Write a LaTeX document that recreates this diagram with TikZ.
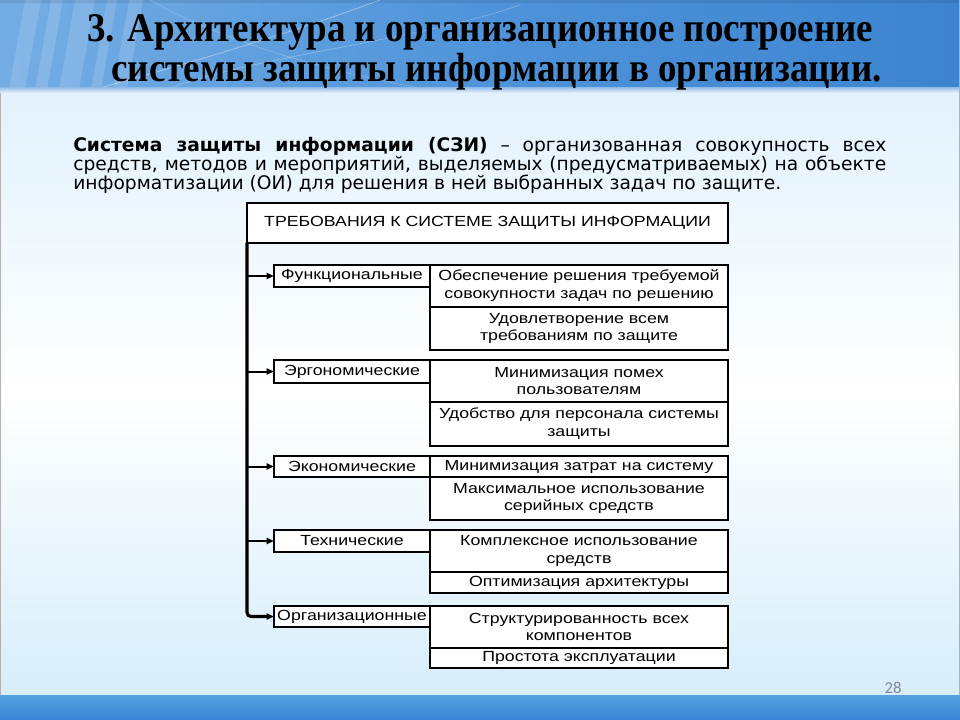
\documentclass[tikz,border=0pt]{standalone}
\usepackage{fontspec}
\setmainfont{Liberation Sans}
\newfontfamily\titlefont[FakeStretch=0.91]{Liberation Serif}
\newfontfamily\parafont{DejaVu Sans}
\newfontfamily\diagfont[FakeStretch=1.21]{Liberation Sans}
\newfontfamily\numfont{Carlito}
\usetikzlibrary{arrows.meta}
\definecolor{hdrL}{HTML}{74ADE3}
\definecolor{hdrM}{HTML}{4F94DA}
\definecolor{hdrR}{HTML}{3D84D0}
\definecolor{bodyT}{HTML}{E2F2FC}
\definecolor{bodyB}{HTML}{D6EDFA}
\definecolor{bandT}{HTML}{56A0E2}
\definecolor{bandB}{HTML}{3A84D4}
\definecolor{numgray}{HTML}{7F8A96}
\begin{document}
\begin{tikzpicture}[x=0.75pt,y=-0.75pt,
  box/.style={draw=black, line width=1.2pt, fill=white, inner sep=0pt, outer sep=0pt,
    anchor=north west, align=center, font=\diagfont\fontsize{11}{13.4}\selectfont},
  cat/.style={box, minimum width=156*0.75pt},
  req/.style={box, minimum width=298*0.75pt},
  arr/.style={line width=1.5pt, -{Triangle[length=5.5pt,width=4.5pt]}},
  trunk/.style={line width=2.3pt, rounded corners=3pt, -{Triangle[length=5.5pt,width=4.5pt]}},
  ttl/.style={anchor=base west, inner sep=0pt, font=\titlefont\bfseries\fontsize{30.5}{32}\selectfont},
  para/.style={anchor=base west, inner sep=0pt, font=\parafont\fontsize{14}{15}\selectfont}
]
\useasboundingbox (0,0) rectangle (960,720);
% backgrounds
\shade[top color=bodyT, bottom color=bodyB, middle color=white] (0,93) rectangle (960,695);
\shade[left color=hdrL, right color=hdrR, middle color=hdrM] (0,0) rectangle (960,88);
\begin{scope}
  \clip (0,0) rectangle (960,88);
  \foreach \xx/\ww in {8/16,34/12,58/20,90/10,112/14}{
    \fill[white, opacity=0.14, rounded corners=4pt] (\xx,95) -- (\xx+\ww,95) -- (\xx+\ww+18,-5) -- (\xx+18,-5) -- cycle;
  }
  \draw[white, opacity=0.4, line width=0.6pt] (100,88) .. controls (200,60) and (300,30) .. (380,0);
  \draw[white, opacity=0.3, line width=0.5pt] (170,88) .. controls (260,55) and (420,40) .. (520,5);
  \draw[white, opacity=0.25, line width=0.5pt] (150,0) .. controls (220,40) and (320,70) .. (420,88);
  \fill[black, opacity=0.08] (0,0) rectangle (960,3);
\end{scope}
\shade[top color=hdrM!55!white, bottom color=white!85!hdrL] (0,88) rectangle (960,93);
\draw[gray!60, line width=0.8pt] (0.5,93) -- (0.5,695);
\draw[gray!60, line width=0.8pt] (959.5,0) -- (959.5,695);
\shade[top color=bandT, bottom color=bandB] (0,695) rectangle (960,720);

% title
\node[ttl] (t1) at (87,42) {3. Архитектура и организационное построение};
\node[ttl] (t2) at (111,82) {системы защиты информации в организации.};

% definition paragraph
\node[para] (p1) at (73,152) {\makebox[609.75pt][s]{\textbf{Система защиты информации (СЗИ)} – организованная совокупность всех}};
\node[para] (p2) at (73,171) {\makebox[609.75pt][s]{средств, методов и мероприятий, выделяемых (предусматриваемых) на объекте}};
\node[para] (p3) at (73,190) {информатизации (ОИ) для решения в ней выбранных задач по защите.};

% diagram
\node[box, minimum width=481*0.75pt, minimum height=40*0.75pt] (top) at (247,203) {ТРЕБОВАНИЯ К СИСТЕМЕ ЗАЩИТЫ ИНФОРМАЦИИ};

\node[cat, minimum height=22*0.75pt] (f) at (274,265) {Функциональные};
\node[req, minimum height=42*0.75pt] (f1) at (430,265) {Обеспечение решения требуемой\\совокупности задач по решению};
\node[req, minimum height=43*0.75pt] (f2) at (430,307) {Удовлетворение всем\\требованиям по защите};

\node[cat, minimum height=23*0.75pt] (e) at (274,360) {Эргономические};
\node[req, minimum height=42*0.75pt] (e1) at (430,360) {Минимизация помех\\пользователям};
\node[req, minimum height=44*0.75pt] (e2) at (430,402) {Удобство для персонала системы\\защиты};

\node[cat, minimum height=21*0.75pt] (c) at (274,456) {Экономические};
\node[req, minimum height=21*0.75pt] (c1) at (430,456) {Минимизация затрат на систему};
\node[req, minimum height=43*0.75pt] (c2) at (430,477) {Максимальное использование\\серийных средств};

\node[cat, minimum height=22*0.75pt] (t) at (274,530) {Технические};
\node[req, minimum height=42*0.75pt] (tt1) at (430,530) {Комплексное использование\\средств};
\node[req, minimum height=21*0.75pt] (tt2) at (430,572) {Оптимизация архитектуры};

\node[cat, minimum height=21*0.75pt] (o) at (274,606) {Организационные};
\node[req, minimum height=42*0.75pt] (o1) at (430,606) {Структурированность всех\\компонентов};
\node[req, minimum height=20*0.75pt] (o2) at (430,648) {Простота эксплуатации};

\draw[trunk] (top.south west) |- (o.west);
\foreach \n in {f,e,c,t}{
  \draw[arr] (\n.west -| top.south west) -- (\n.west);
}

% page number
\node[font=\numfont\fontsize{12.5}{14}\selectfont, text=numgray, inner sep=0pt] (num) at (893,688) {28};
\end{tikzpicture}
\end{document}
